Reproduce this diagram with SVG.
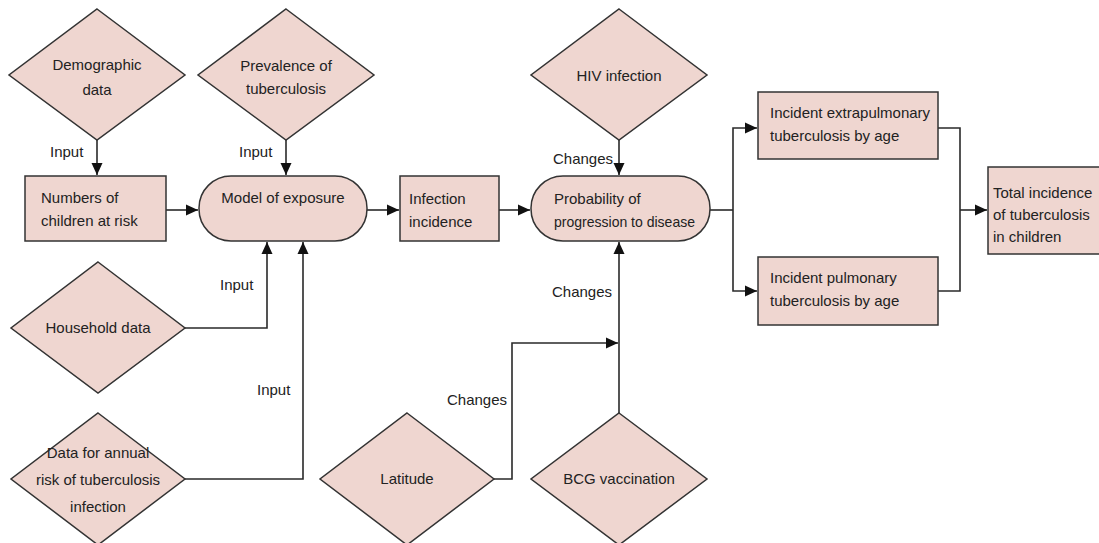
<svg xmlns="http://www.w3.org/2000/svg" width="1099" height="543" viewBox="0 0 1099 543">
<defs>
<style>
.n{fill:#efd6d0;stroke:#333;stroke-width:1.5}
.t{font-family:"Liberation Sans",Arial,sans-serif;font-size:15px;fill:#222}
.c{text-anchor:middle}
.e{fill:none;stroke:#2a2a2a;stroke-width:1.6}
</style>
<marker id="a" viewBox="0 0 12 12" refX="12" refY="6" markerWidth="12" markerHeight="12" markerUnits="userSpaceOnUse" orient="auto">
<path d="M0,0.5L12,6L0,11.5z" fill="#111"/>
</marker>
</defs>
<rect width="1099" height="543" fill="#fff"/>
<g id="connectors">
<path class="e" d="M97,140V175" marker-end="url(#a)"/>
<path class="e" d="M286,140V175" marker-end="url(#a)"/>
<path class="e" d="M166,210H198" marker-end="url(#a)"/>
<path class="e" d="M367,210H399" marker-end="url(#a)"/>
<path class="e" d="M499,210H530" marker-end="url(#a)"/>
<path class="e" d="M619,140V175" marker-end="url(#a)"/>
<path class="e" d="M185,328H267V242" marker-end="url(#a)"/>
<path class="e" d="M185,479H303V242" marker-end="url(#a)"/>
<path class="e" d="M619,413V242" marker-end="url(#a)"/>
<path class="e" d="M493,479H512V343H618" marker-end="url(#a)"/>
<path class="e" d="M710,210H733"/>
<path class="e" d="M733,210V128H757" marker-end="url(#a)"/>
<path class="e" d="M733,210V291H757" marker-end="url(#a)"/>
<path class="e" d="M938,128H960V291H938"/>
<path class="e" d="M960,210H987" marker-end="url(#a)"/>
<text class="t" x="50" y="157">Input</text>
<text class="t" x="239" y="157">Input</text>
<text class="t" x="220" y="290">Input</text>
<text class="t" x="257" y="395">Input</text>
<text class="t" x="553" y="164">Changes</text>
<text class="t" x="552" y="297">Changes</text>
<text class="t" x="447" y="405">Changes</text>
</g>
<g id="demographic"><path class="n" d="M97,9L185,75L97,140L9,75z"/><text class="t c" x="97" y="70">Demographic</text><text class="t c" x="97" y="95">data</text></g>
<g id="prevalence"><path class="n" d="M286,9L374,75L286,140L198,75z"/><text class="t c" x="286" y="71">Prevalence of</text><text class="t c" x="286" y="94">tuberculosis</text></g>
<g id="hiv"><path class="n" d="M619,9L707,75L619,140L531,75z"/><text class="t c" x="619" y="81">HIV infection</text></g>
<g id="numbers"><rect class="n" x="25" y="176" width="141" height="65"/><text class="t" x="41" y="203">Numbers of</text><text class="t" x="41" y="226">children at risk</text></g>
<g id="exposure"><rect class="n" x="199" y="176" width="168" height="65" rx="32" ry="32"/><text class="t c" x="283" y="203">Model of exposure</text></g>
<g id="infection"><rect class="n" x="400" y="176" width="99" height="65"/><text class="t" x="409" y="204">Infection</text><text class="t" x="409" y="227">incidence</text></g>
<g id="progression"><rect class="n" x="531" y="176" width="179" height="65" rx="32" ry="32"/><text class="t" x="554" y="204">Probability of</text><text class="t" x="554" y="227" textLength="141" lengthAdjust="spacingAndGlyphs">progression to disease</text></g>
<g id="extrapulmonary"><rect class="n" x="758" y="92" width="180" height="67"/><text class="t" x="770" y="118">Incident extrapulmonary</text><text class="t" x="770" y="141">tuberculosis by age</text></g>
<g id="pulmonary"><rect class="n" x="758" y="257" width="180" height="68"/><text class="t" x="770" y="283">Incident pulmonary</text><text class="t" x="770" y="306">tuberculosis by age</text></g>
<g id="total"><rect class="n" x="988" y="167" width="115" height="87"/><text class="t" x="993" y="198">Total incidence</text><text class="t" x="993" y="220">of tuberculosis</text><text class="t" x="993" y="242">in children</text></g>
<g id="household"><path class="n" d="M98,262L185,328L98,393L11,328z"/><text class="t c" x="98" y="333">Household data</text></g>
<g id="annual"><path class="n" d="M98,413L185,479L98,545L11,479z"/><text class="t c" x="98" y="458">Data for annual</text><text class="t c" x="98" y="485">risk of tuberculosis</text><text class="t c" x="98" y="512">infection</text></g>
<g id="latitude"><path class="n" d="M407,413L494,479L407,545L320,479z"/><text class="t c" x="407" y="484">Latitude</text></g>
<g id="bcg"><path class="n" d="M619,413L707,479L619,545L531,479z"/><text class="t c" x="619" y="484">BCG vaccination</text></g>
</svg>
